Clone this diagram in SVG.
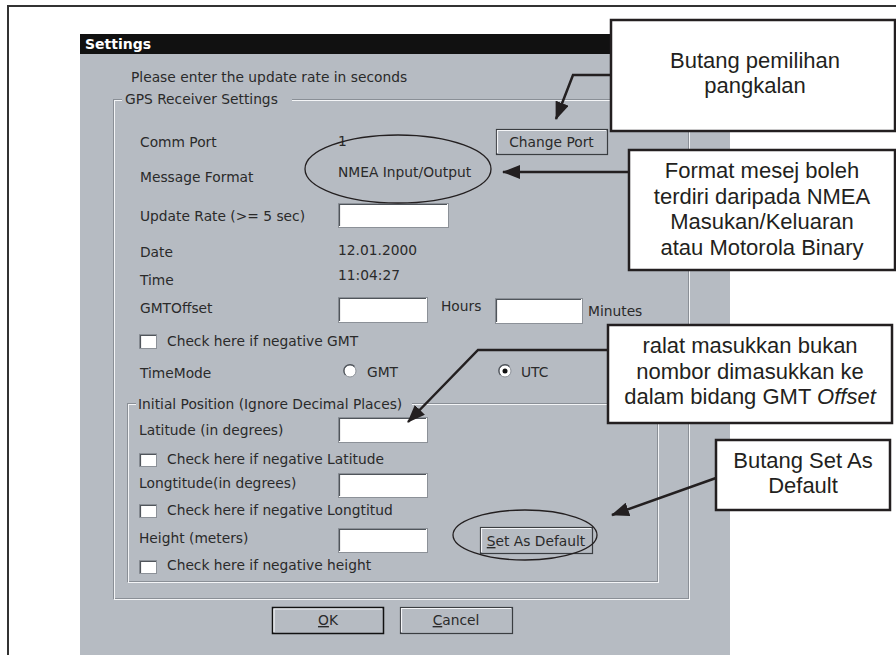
<svg xmlns="http://www.w3.org/2000/svg" width="896" height="655" viewBox="0 0 896 655">
<style>
.dlg{font-family:"DejaVu Sans","Liberation Sans",sans-serif;font-size:13.8px;fill:#2a2a2a}
.call{font-family:"Liberation Sans",Arial,sans-serif;font-size:22px;fill:#231f20;text-anchor:middle}
.cbox{fill:#fff;stroke:#231f20;stroke-width:2.5}
.tb{fill:#fff;stroke:#8c9198;stroke-width:1}
.tbs{fill:none;stroke:#50555b;stroke-width:1.2}
.etch1{fill:none;stroke:#8a8f96;stroke-width:1}
.etch2{fill:none;stroke:#f4f5f7;stroke-width:1}
.btn{fill:#b6bbc2;stroke:#3a3d41;stroke-width:1.2}
.hl{fill:none;stroke:#f4f5f7;stroke-width:1.2}
.conn{fill:none;stroke:#231f20;stroke-width:2.5}
.ell{fill:none;stroke:#231f20;stroke-width:1.3}
</style>
<defs>
<marker id="ah" markerUnits="userSpaceOnUse" markerWidth="18" markerHeight="14" refX="17" refY="7" orient="auto">
<path d="M0,0 L18,7 L0,14 Z" fill="#231f20"/>
</marker>
</defs>
<rect x="0" y="0" width="896" height="655" fill="#fff"/>
<path d="M8,655 L8,6 L896,6" fill="none" stroke="#333" stroke-width="2"/>

<g id="dialog">
<rect x="80" y="54" width="650" height="601" fill="#b6bbc2"/>
<rect x="80" y="34" width="650" height="20" fill="#111"/>
<text x="85" y="49" font-family="DejaVu Sans,Liberation Sans,sans-serif" font-size="14" font-weight="bold" fill="#fff">Settings</text>
<text class="dlg" x="131" y="82">Please enter the update rate in seconds</text>

<rect class="etch1" x="113.5" y="99.5" width="575" height="499"/>
<rect class="etch2" x="114.5" y="100.5" width="575" height="499"/>
<rect x="122" y="92" width="170" height="14" fill="#b6bbc2"/>
<text class="dlg" x="125" y="104">GPS Receiver Settings</text>

<text class="dlg" x="140" y="147">Comm Port</text>
<text class="dlg" x="338" y="146">1</text>
<text class="dlg" x="140" y="182">Message Format</text>
<text class="dlg" x="338" y="177">NMEA Input/Output</text>

<text class="dlg" x="140" y="221">Update Rate (&gt;= 5 sec)</text>
<rect class="tb" x="338.5" y="203.5" width="110" height="24"/>
<path class="tbs" d="M339.5,226 L339.5,204.5 L447,204.5"/>

<text class="dlg" x="140" y="257">Date</text>
<text class="dlg" x="338" y="255">12.01.2000</text>
<text class="dlg" x="140" y="285">Time</text>
<text class="dlg" x="338" y="280">11:04:27</text>

<text class="dlg" x="140" y="313">GMTOffset</text>
<rect class="tb" x="338.5" y="297.5" width="89" height="25"/>
<path class="tbs" d="M339.5,321 L339.5,298.5 L426,298.5"/>
<text class="dlg" x="441" y="311">Hours</text>
<rect class="tb" x="495.5" y="298.5" width="87" height="25"/>
<path class="tbs" d="M496.5,322 L496.5,299.5 L581,299.5"/>
<text class="dlg" x="588" y="316">Minutes</text>

<rect class="tb" x="139.5" y="334.5" width="17" height="14"/>
<path class="tbs" d="M140.5,348 L140.5,335.5 L156,335.5"/>
<text class="dlg" x="167" y="346">Check here if negative GMT</text>

<text class="dlg" x="140" y="378">TimeMode</text>
<circle cx="350" cy="371" r="6" fill="#fff" stroke="#8c9198" stroke-width="1"/>
<path d="M345.5,375 A6,6 0 0 1 354.5,366.5" fill="none" stroke="#50555b" stroke-width="1.2"/>
<text class="dlg" x="367" y="377">GMT</text>
<circle cx="505" cy="371" r="6" fill="#fff" stroke="#8c9198" stroke-width="1"/>
<path d="M500.5,375 A6,6 0 0 1 509.5,366.5" fill="none" stroke="#50555b" stroke-width="1.2"/>
<circle cx="505" cy="371" r="2.5" fill="#111"/>
<text class="dlg" x="521" y="377">UTC</text>

<rect class="etch1" x="127.5" y="403.5" width="530" height="178"/>
<rect class="etch2" x="128.5" y="404.5" width="530" height="178"/>
<rect x="136" y="396" width="276" height="14" fill="#b6bbc2"/>
<text class="dlg" x="138" y="409">Initial Position (Ignore Decimal Places)</text>

<text class="dlg" x="139" y="435">Latitude (in degrees)</text>
<rect class="tb" x="338.5" y="417.5" width="89" height="25"/>
<path class="tbs" d="M339.5,441 L339.5,418.5 L426,418.5"/>
<rect class="tb" x="139.5" y="453.5" width="17" height="13" fill="#f1f2f4"/>
<path class="tbs" d="M140.5,466 L140.5,454.5 L156,454.5"/>
<text class="dlg" x="167" y="464">Check here if negative Latitude</text>

<text class="dlg" x="139" y="488">Longtitude(in degrees)</text>
<rect class="tb" x="338.5" y="473.5" width="89" height="24"/>
<path class="tbs" d="M339.5,496 L339.5,474.5 L426,474.5"/>
<rect class="tb" x="139.5" y="504.5" width="17" height="13"/>
<path class="tbs" d="M140.5,517 L140.5,505.5 L156,505.5"/>
<text class="dlg" x="167" y="515">Check here if negative Longtitud</text>

<text class="dlg" x="139" y="543">Height (meters)</text>
<rect class="tb" x="338.5" y="528.5" width="89" height="24"/>
<path class="tbs" d="M339.5,551 L339.5,529.5 L426,529.5"/>
<rect class="tb" x="139.5" y="560.5" width="17" height="13"/>
<path class="tbs" d="M140.5,573 L140.5,561.5 L156,561.5"/>
<text class="dlg" x="167" y="570">Check here if negative height</text>
</g>

<g id="btn-change-port">
<rect class="btn" x="496.5" y="129.5" width="111" height="25"/>
<path class="hl" d="M497.5,153 L497.5,130.5 L606,130.5"/>
<text class="dlg" x="551.5" y="147" text-anchor="middle">Change Port</text>
</g>
<g id="btn-set-default">
<rect class="btn" x="480.5" y="527.5" width="112" height="26"/>
<path class="hl" d="M481.5,552 L481.5,528.5 L591,528.5"/>
<text class="dlg" x="536" y="546" text-anchor="middle"><tspan text-decoration="underline">S</tspan>et As Default</text>
</g>
<g id="btn-ok">
<rect x="272.5" y="607.5" width="111" height="26" fill="#b6bbc2" stroke="#111" stroke-width="1.5"/>
<path class="hl" d="M274,632 L274,609 L382,609"/>
<text class="dlg" x="328" y="625" text-anchor="middle"><tspan text-decoration="underline">O</tspan>K</text>
</g>
<g id="btn-cancel">
<rect class="btn" x="400.5" y="607.5" width="112" height="26"/>
<path class="hl" d="M401.5,632 L401.5,608.5 L511,608.5"/>
<text class="dlg" x="456" y="625" text-anchor="middle"><tspan text-decoration="underline">C</tspan>ancel</text>
</g>

<g id="ellipses">
<ellipse class="ell" cx="398" cy="169" rx="93" ry="34"/>
<ellipse class="ell" cx="525" cy="535" rx="72" ry="25"/>
</g>

<g id="callout-port">
<rect class="cbox" x="611" y="20" width="284" height="111"/>
<text class="call" x="755" y="67.5">Butang pemilihan</text>
<text class="call" x="755" y="92.5">pangkalan</text>
</g>
<g id="callout-format">
<rect class="cbox" x="629" y="150" width="266" height="120"/>
<text class="call" x="762" y="178">Format mesej boleh</text>
<text class="call" x="762" y="203.5">terdiri daripada NMEA</text>
<text class="call" x="762" y="229">Masukan/Keluaran</text>
<text class="call" x="762" y="254.5">atau Motorola Binary</text>
</g>
<g id="callout-error">
<rect class="cbox" x="608" y="325" width="284" height="98"/>
<text class="call" x="750" y="353">ralat masukkan bukan</text>
<text class="call" x="750" y="378.5">nombor dimasukkan ke</text>
<text class="call" x="750" y="404">dalam bidang GMT <tspan font-style="italic">Offset</tspan></text>
</g>
<g id="callout-default">
<rect class="cbox" x="716" y="440" width="174" height="70"/>
<text class="call" x="803" y="467.5">Butang Set As</text>
<text class="call" x="803" y="492.5">Default</text>
</g>

<g id="connectors">
<path class="conn" d="M611,75 L573,75 L556,119" marker-end="url(#ah)"/>
<path class="conn" d="M629,172 L503,172" marker-end="url(#ah)"/>
<path class="conn" d="M608,350 L478,350 L408,422" marker-end="url(#ah)"/>
<path class="conn" d="M716,478 L612,515" marker-end="url(#ah)"/>
</g>
</svg>
